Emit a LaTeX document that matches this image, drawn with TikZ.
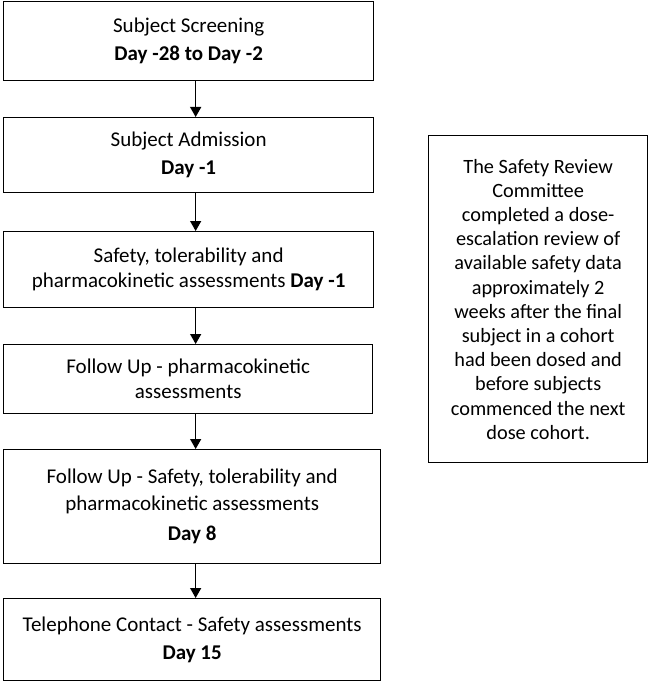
\documentclass[tikz,border=0pt]{standalone}
\usepackage{fontspec}
\setmainfont{Carlito}
\usetikzlibrary{arrows.meta}
\begin{document}
\begin{tikzpicture}[x=1pt,y=-1pt,
  box/.style={draw=black, line width=1.3pt, anchor=north west, align=center, inner sep=0pt,
    font=\fontsize{21}{25}\selectfont},
  arr/.style={line width=1.3pt, -{Triangle[width=11pt,length=10pt]}}]
\useasboundingbox (0,0) rectangle (648,682);
\node[box, minimum width=370pt, minimum height=79pt] (b1) at (3,1)
  {Subject Screening\\[3pt]\textbf{Day -28 to Day -2}};
\node[box, minimum width=370pt, minimum height=75pt] (b2) at (3,117)
  {Subject Admission\\[3pt]\textbf{Day -1}};
\node[box, minimum width=370pt, minimum height=76pt] (b3) at (3,231)
  {Safety, tolerability and\\pharmacokinetic assessments \textbf{Day -1}};
\node[box, minimum width=369pt, minimum height=69pt] (b4) at (3,344)
  {Follow Up - pharmacokinetic\\assessments};
\node[box, minimum width=377pt, minimum height=114pt] (b5) at (3,449)
  {Follow Up - Safety, tolerability and\\[2pt]pharmacokinetic assessments\\[5pt]\textbf{Day 8}};
\node[box, minimum width=377pt, minimum height=82pt] (b6) at (3,598)
  {Telephone Contact - Safety assessments\\[3pt]\textbf{Day 15}};
\node[box, minimum width=219pt, minimum height=327pt, font=\fontsize{20.3}{24.2}\selectfont] (r) at (428,135)
  {The Safety Review\\Committee\\completed a dose-\\escalation review of\\available safety data\\approximately 2\\weeks after the final\\subject in a cohort\\had been dosed and\\before subjects\\commenced the next\\dose cohort.};
\draw[arr] ([xshift=7pt]b1.south) -- ([xshift=7pt]b2.north);
\draw[arr] ([xshift=7pt]b2.south) -- ([xshift=7pt]b3.north);
\draw[arr] ([xshift=7pt]b3.south) -- ([xshift=7.5pt]b4.north);
\draw[arr] ([xshift=7.5pt]b4.south) -- ([xshift=3.5pt]b5.north);
\draw[arr] ([xshift=3.5pt]b5.south) -- ([xshift=3.5pt]b6.north);
\end{tikzpicture}
\end{document}
